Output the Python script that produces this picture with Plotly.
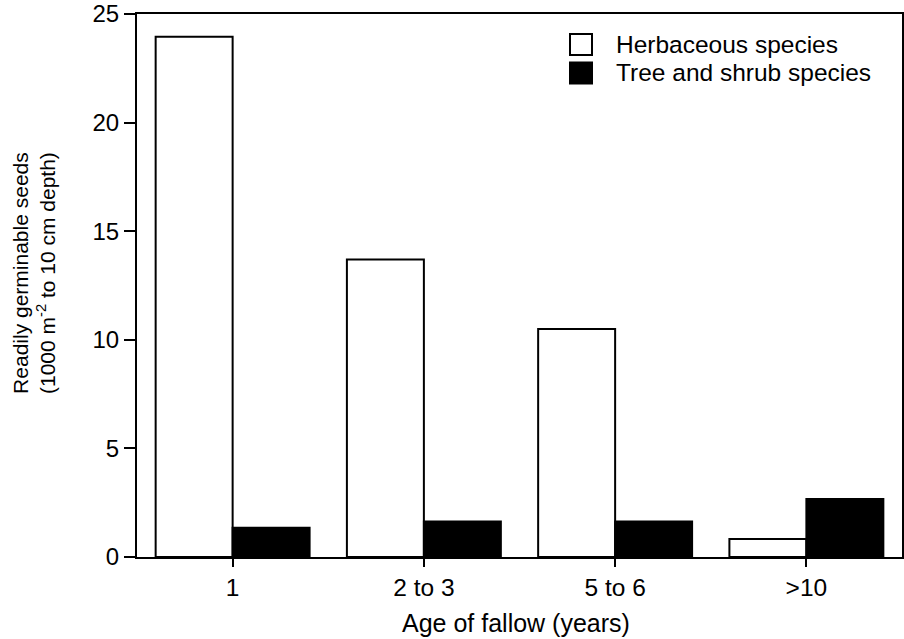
import plotly.graph_objects as go

categories = ["1", "2 to 3", "5 to 6", ">10"]
herbaceous = [23.95, 13.7, 10.5, 0.83]
tree_shrub = [1.35, 1.63, 1.63, 2.67]
series_names = ["Herbaceous species", "Tree and shrub species"]
y_ticks = [0, 5, 10, 15, 20, 25]

FONT = "Liberation Sans, Arial, Helvetica, sans-serif"

L, R, T, B = 137, 2, 14, 82
PW, PH = 904 - L - R, 639 - T - B

fig = go.Figure()
fig.add_trace(go.Bar(x=categories, y=herbaceous, name=series_names[0],
                     marker=dict(color="white", line=dict(color="black", width=2)),
                     showlegend=False))
fig.add_trace(go.Bar(x=categories, y=tree_shrub, name=series_names[1],
                     marker=dict(color="black", line=dict(color="black", width=2)),
                     showlegend=False))

fig.update_layout(
    width=904, height=639,
    margin=dict(l=L, r=R, t=T, b=B, autoexpand=False),
    paper_bgcolor="white", plot_bgcolor="white",
    barmode="group", bargap=0.195, bargroupgap=0,
    font=dict(family=FONT, size=24, color="black"),
)
fig.update_xaxes(
    type="category", range=[-0.5, 3.5], automargin=False,
    showline=True, linecolor="black", linewidth=2, mirror=True,
    ticks="outside", ticklen=8, tickwidth=2, tickcolor="black",
    showgrid=False, tickfont=dict(size=24.5),
)
fig.update_yaxes(
    range=[0, 25], tickvals=y_ticks, automargin=False,
    showline=True, linecolor="black", linewidth=2, mirror=True,
    ticks="outside", ticklen=11, tickwidth=2, tickcolor="black",
    showgrid=False, zeroline=False, tickfont=dict(size=24),
)

# x-axis title
fig.add_annotation(
    xref="paper", yref="paper", x=(516 - L) / PW, y=(557 - 623) / PH,
    xanchor="center", yanchor="middle", text="Age of fallow (years)",
    showarrow=False, font=dict(size=25, family=FONT),
)

# y-axis title (two lines)
fig.add_annotation(
    xref="paper", yref="paper", x=(34 - L) / PW, y=(557 - 273) / PH,
    xanchor="center", yanchor="middle",
    text="Readily germinable seeds<br>(1000 m<sup>-2</sup> to 10 cm depth)",
    textangle=-90, showarrow=False, font=dict(size=21, family=FONT),
)

# custom legend: swatches + labels
legend_rows = [(44.5, "white"), (73, "black")]
for (yc_px, col), name in zip(legend_rows, series_names):
    yc = (557 - yc_px) / PH
    fig.add_shape(type="rect", xref="paper", yref="paper",
                  x0=(570 - L) / PW, x1=(592 - L) / PW,
                  y0=yc - 10.5 / PH, y1=yc + 10.5 / PH,
                  fillcolor=col, line=dict(color="black", width=2))
    fig.add_annotation(xref="paper", yref="paper", x=(614 - L) / PW, y=yc,
                       xanchor="left", yanchor="middle", text=name, showarrow=False,
                       font=dict(size=24.5, family=FONT))

fig.write_html(
    "out.html",
    config={"displayModeBar": False},
    post_script="document.body.style.margin='0';document.body.style.overflow='hidden';",
)
